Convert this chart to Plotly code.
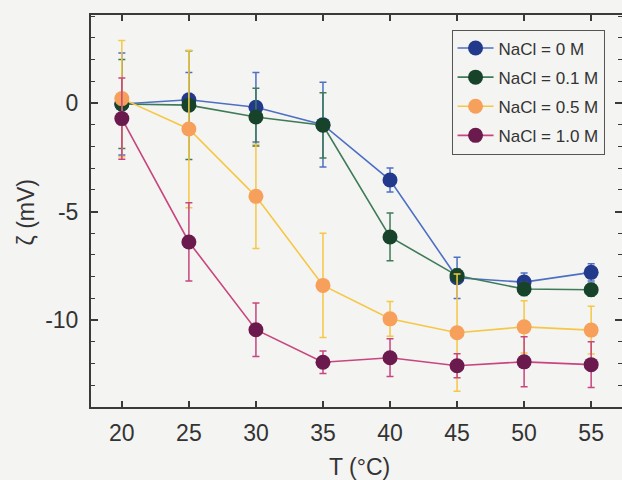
import plotly.graph_objects as go

# Temperature (°C)
temperature = [20, 25, 30, 35, 40, 45, 50, 55]

# Zeta potential (mV) and standard deviations for each NaCl concentration
zeta_0M = [-0.05, 0.15, -0.2, -1.0, -3.55, -8.05, -8.25, -7.8]
err_0M = [2.35, 1.25, 1.6, 1.95, 0.55, 0.95, 0.42, 0.4]

zeta_01M = [-0.05, -0.1, -0.65, -1.03, -6.17, -7.95, -8.57, -8.6]
err_01M = [2.05, 2.5, 1.33, 1.5, 1.1, 0.3, 0.3, 0.3]

zeta_05M = [0.2, -1.2, -4.3, -8.4, -9.94, -10.58, -10.31, -10.46]
err_05M = [2.68, 3.63, 2.4, 2.4, 0.8, 2.7, 1.2, 1.1]

zeta_10M = [-0.72, -6.4, -10.44, -11.94, -11.73, -12.1, -11.92, -12.05]
err_10M = [1.87, 1.8, 1.23, 0.52, 0.87, 0.55, 1.15, 1.05]

series_names = ["NaCl = 0 M", "NaCl = 0.1 M", "NaCl = 0.5 M", "NaCl = 1.0 M"]
line_colors = ["#4d6fc4", "#3f7b58", "#f6c744", "#c8457f"]
marker_colors = ["#233a8c", "#17432a", "#f7a05c", "#6b1a4e"]

x_title = "T (°C)"
y_title = "ζ (mV)"

series = [
    (zeta_0M, err_0M),
    (zeta_01M, err_01M),
    (zeta_05M, err_05M),
    (zeta_10M, err_10M),
]

fig = go.Figure()
for i, ((vals, errs), name, lc, mc) in enumerate(
        zip(series, series_names, line_colors, marker_colors)):
    fig.add_trace(go.Scatter(
        x=temperature, y=vals, name=name, mode="lines+markers",
        legendgroup=f"g{i}",
        line=dict(color=lc, width=1.6),
        marker=dict(color=mc, size=15, line=dict(width=0)),
        error_y=dict(type="data", array=errs, visible=True,
                     color=lc, thickness=1.5, width=3.5),
    ))

# Ticks along the right edge of the frame (no line, no labels)
fig.add_trace(go.Scatter(x=[None], y=[None], yaxis="y2", showlegend=False,
                         hoverinfo="skip"))

font_family = "Liberation Sans, Arial, sans-serif"
axis_color = "#3a3a3a"

fig.update_layout(
    width=622, height=480,
    margin=dict(l=91, r=0, t=15, b=73),
    paper_bgcolor="#f4f4f2",
    plot_bgcolor="#f4f4f2",
    font=dict(family=font_family, size=23, color="#333333"),
    showlegend=True,
    legend=dict(
        x=0.679, y=0.963, xanchor="left", yanchor="top",
        bgcolor="#f4f4f2", bordercolor="#555555", borderwidth=1,
        font=dict(size=17, color="#333333"),
        itemwidth=36, traceorder="grouped", tracegroupgap=4,
    ),
    xaxis=dict(
        range=[17.7, 57.3],
        tickvals=temperature,
        ticks="inside", ticklen=6, tickwidth=1.5, tickcolor=axis_color,
        showline=True, linecolor=axis_color, linewidth=2, mirror="ticks",
        showgrid=False, zeroline=False,
        tickfont=dict(size=23),
        ticklabelstandoff=4,
    ),
    yaxis=dict(
        range=[-14, 4.05],
        tickvals=[-10, -5, 0],
        ticktext=["-10", "-5", "0"],
        ticks="inside", ticklen=7, tickwidth=1.5, tickcolor=axis_color,
        minor=dict(ticks="inside", ticklen=4, dtick=1, tick0=0,
                   tickcolor=axis_color, tickwidth=1.2, showgrid=False),
        showline=True, linecolor=axis_color, linewidth=2,
        showgrid=False, zeroline=False,
        tickfont=dict(size=23),
        ticklabelstandoff=6,
    ),
    yaxis2=dict(
        overlaying="y", side="right", anchor="x",
        range=[-14, 4.05],
        tickvals=[-10, -5, 0],
        ticks="inside", ticklen=7, tickwidth=1.5, tickcolor=axis_color,
        minor=dict(ticks="inside", ticklen=4, dtick=1, tick0=0,
                   tickcolor=axis_color, tickwidth=1.2, showgrid=False),
        showticklabels=False, showline=False, showgrid=False, zeroline=False,
    ),
    annotations=[
        dict(text=x_title, xref="paper", yref="paper", x=0.505, y=-0.153,
             xanchor="center", yanchor="middle", showarrow=False,
             font=dict(size=23)),
        dict(text=y_title, xref="paper", yref="paper", x=-0.122, y=0.497,
             xanchor="center", yanchor="middle", showarrow=False,
             textangle=-90, font=dict(size=23)),
    ],
)

fig.write_html("out.html")
